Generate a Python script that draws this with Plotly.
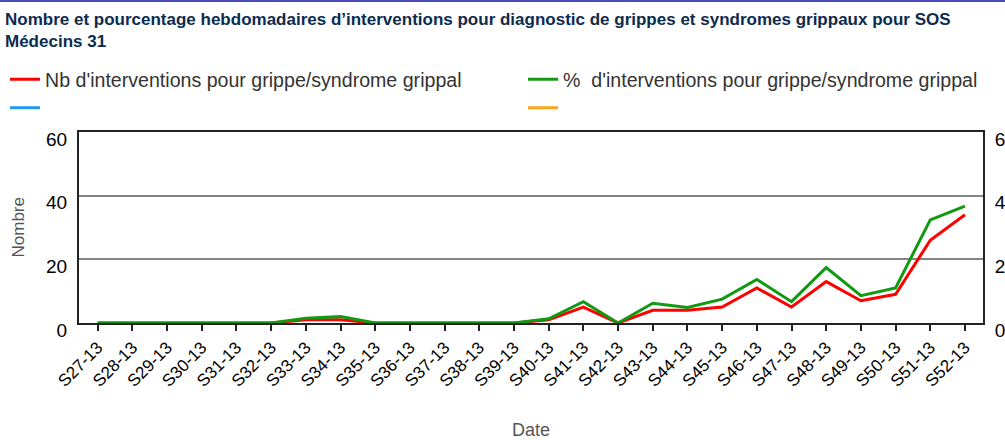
import plotly.graph_objects as go

# weekly data, S27-13 to S52-13
weeks = [f"S{w}-13" for w in range(27, 53)]
nb_interventions = [0, 0, 0, 0, 0, 0, 1, 1, 0, 0, 0, 0, 0,
                    1, 5, 0, 4, 4, 5, 11, 5, 13, 7, 9, 26, 34]
pct_interventions = [0, 0, 0, 0, 0, 0, 0.15, 0.2, 0, 0, 0, 0, 0,
                     0.13, 0.67, 0, 0.62, 0.49, 0.75, 1.37, 0.67, 1.74, 0.86, 1.1, 3.24, 3.67]

left_ticks = [0, 20, 40, 60]
right_ticks = [0, 2, 4, 6]

FONT = "Liberation Sans, Arial, sans-serif"
x_range = [-0.54, 25.52]

fig = go.Figure()

fig.add_trace(go.Scatter(
    x=weeks, y=nb_interventions,
    name="Nb d'interventions pour grippe/syndrome grippal",
    mode="lines", line=dict(color="#ff0000", width=3),
    legend="legend",
))
fig.add_trace(go.Scatter(
    x=[None], y=[None], name=" ",
    mode="lines", line=dict(color="#2196f3", width=3),
    legend="legend",
))
fig.add_trace(go.Scatter(
    x=weeks, y=pct_interventions, yaxis="y2",
    name="%  d'interventions pour grippe/syndrome grippal",
    mode="lines", line=dict(color="#129912", width=3),
    legend="legend2",
))
fig.add_trace(go.Scatter(
    x=[None], y=[None], yaxis="y2", name=" ",
    mode="lines", line=dict(color="#ffa31a", width=3),
    legend="legend2",
))

legend_common = dict(
    orientation="v", xref="container", yref="container",
    xanchor="left", yanchor="top", y=1 - 60 / 440,
    font=dict(family=FONT, size=19.6, color="#333333"),
    bgcolor="rgba(0,0,0,0)",
)

fig.update_layout(
    width=1005, height=440,
    margin=dict(l=79, r=22, t=132, b=117, autoexpand=False),
    paper_bgcolor="white", plot_bgcolor="white",
    font=dict(family=FONT, color="#000000"),
    title=dict(
        text="<b>Nombre et pourcentage hebdomadaires d’interventions pour diagnostic de grippes et syndromes grippaux pour SOS<br>Médecins 31</b>",
        xref="container", yref="container", x=5 / 1005, y=1 - 25 / 440,
        xanchor="left", yanchor="middle", pad=dict(l=0, r=0, t=0, b=0),
        font=dict(family=FONT, size=17, color="#0d2b4e"),
    ),
    legend=dict(legend_common, x=5 / 1005),
    legend2=dict(legend_common, x=523 / 1005),
    xaxis=dict(
        type="category", range=x_range,
        showline=True, linecolor="#222222", linewidth=2, mirror=True,
        ticks="outside", ticklen=6, tickwidth=2, tickcolor="#222222",
        tickangle=-45, tickfont=dict(size=17, color="#000000"),
        showgrid=False,
        title=dict(text="Date", font=dict(size=18, color="#555555"), standoff=37),
    ),
    # second x axis only to draw the inner half of the crossing tick marks
    xaxis2=dict(
        type="linear", overlaying="x", range=x_range, anchor="y", side="bottom",
        tickmode="array", tickvals=list(range(len(weeks))),
        ticks="inside", ticklen=5, tickwidth=2, tickcolor="#222222",
        showticklabels=False, showgrid=False, showline=False, zeroline=False,
    ),
    yaxis=dict(
        range=[0, 60], tickvals=left_ticks,
        showline=True, linecolor="#222222", linewidth=2,
        showgrid=True, gridcolor="#858585", gridwidth=2,
        zeroline=False, ticks="",
        tickfont=dict(size=19, color="#000000"),
        ticklabelstandoff=6, ticklabelshift=7,
    ),
    yaxis2=dict(
        range=[0, 6], tickvals=right_ticks, overlaying="y", side="right",
        showline=True, linecolor="#222222", linewidth=2,
        showgrid=False, zeroline=False, ticks="",
        tickfont=dict(size=19, color="#000000"),
        ticklabelstandoff=6, ticklabelshift=7,
    ),
    annotations=[dict(
        text="Nombre", textangle=-90, showarrow=False,
        xref="paper", yref="paper", x=-61 / 904, y=0.5,
        xanchor="center", yanchor="middle",
        font=dict(family=FONT, size=17, color="#555555"),
    )],
    shapes=[dict(type="rect", xref="paper", yref="paper",
                 x0=-79 / 904, x1=1 + 22 / 904, y0=1 + 130 / 191, y1=1 + 132 / 191,
                 fillcolor="#4a4abf", line=dict(width=0), layer="above")],
)

# the page's default body margin would offset the fixed-size figure by 8px
fig.write_html("out.html", config={"displayModeBar": False},
               post_script="document.body.style.margin='0';")
